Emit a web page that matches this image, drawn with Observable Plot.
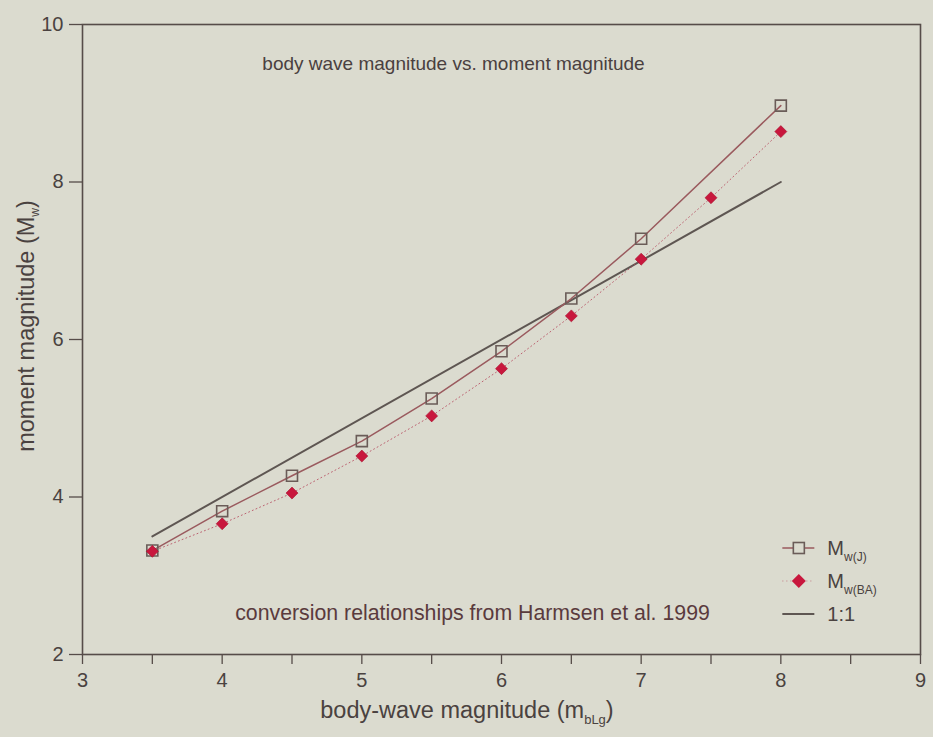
<!DOCTYPE html>
<html>
<head>
<meta charset="utf-8">
<script src="https://cdn.jsdelivr.net/npm/d3@7"></script>
<script src="https://cdn.jsdelivr.net/npm/@observablehq/plot@0.6"></script>
<style>
  html, body { margin: 0; padding: 0; background: #dbdbcf; }
</style>
</head>
<body>
<div id="chart"></div>
<script>
// ---- data ----
const mbLg = [3.5, 4, 4.5, 5, 5.5, 6, 6.5, 7, 8];
const mwJ = [3.32, 3.82, 4.27, 4.71, 5.25, 5.85, 6.52, 7.28, 8.97];
const mbLgBA = [3.5, 4, 4.5, 5, 5.5, 6, 6.5, 7, 7.5, 8];
const mwBA = [3.31, 3.66, 4.05, 4.52, 5.03, 5.63, 6.30, 7.02, 7.80, 8.64];
const oneToOneX = [3.5, 8];
const xTicks = [3, 3.5, 4, 4.5, 5, 5.5, 6, 6.5, 7, 7.5, 8, 8.5, 9];
const yTicks = [2, 4, 6, 8, 10];
const titleText = "body wave magnitude vs. moment magnitude";
const noteText = "conversion relationships from Harmsen et al. 1999";

const J = mbLg.map((x, i) => ({x, y: mwJ[i]}));
const BA = mbLgBA.map((x, i) => ({x, y: mwBA[i]}));
const one = oneToOneX.map(x => ({x, y: x}));

const axisColor = "#564c49";
const lineJ = "#9a5a5e";
const dotBA = "#c8173d";
const squareStroke = "#6a5c58";
const lineOne = "#5e5652";
const textColor = "#4a4240";

const chart = Plot.plot({
  width: 933,
  height: 737,
  marginLeft: 82,
  marginRight: 13,
  marginTop: 24,
  marginBottom: 83,
  x: {domain: [3, 9]},
  y: {domain: [2, 10]},
  style: {background: "#dbdbcf", fontFamily: "'Liberation Sans', Arial, sans-serif", fontSize: "20px", color: textColor},
  marks: [
    Plot.axisX({ticks: xTicks, tickSize: 10, tickPadding: 8, fontSize: 20, tickFormat: d => Number.isInteger(d) ? d : "", label: null, stroke: axisColor, strokeWidth: 1.3}),
    Plot.axisY({ticks: yTicks, tickSize: 13, tickPadding: 6, fontSize: 20, label: null, stroke: axisColor, strokeWidth: 1.3}),
    Plot.frame({stroke: axisColor, strokeWidth: 1.6}),
    Plot.line(one, {x: "x", y: "y", stroke: lineOne, strokeWidth: 2}),
    Plot.line(BA, {x: "x", y: "y", stroke: "#b4455a", strokeWidth: 1, strokeDasharray: "1,3", strokeOpacity: 0.8}),
    Plot.line(J, {x: "x", y: "y", stroke: lineJ, strokeWidth: 1.5}),
    Plot.dot(J, {x: "x", y: "y", symbol: "square", r: 6.2, stroke: squareStroke, strokeWidth: 1.6, fill: "none"}),
    Plot.dot(BA, {x: "x", y: "y", symbol: "diamond2", r: 5.4, fill: dotBA, stroke: "#a8102e", strokeWidth: 0.6}),
    Plot.text([titleText], {frameAnchor: "top", lineAnchor: "middle", dx: -48, dy: 39, fontSize: 19, fill: "#4a4040"}),
    Plot.text([noteText], {frameAnchor: "bottom", lineAnchor: "middle", dx: -29, dy: -41, fontSize: 21.3, fill: "#5a3a3d"})
  ]
});
document.getElementById("chart").appendChild(chart);

// ---- labels with subscripts and legend (added after render) ----
const svg = d3.select(chart);
const sx = chart.scale("x"), sy = chart.scale("y");
const font = "'Liberation Sans', Arial, sans-serif";

function subLabel(g, main, sub, tail, size, subSize, shift) {
  const t = g.append("text").attr("font-family", font).attr("font-size", size).attr("fill", textColor);
  t.append("tspan").text(main);
  t.append("tspan").attr("font-size", subSize).attr("dy", shift).text(sub);
  if (tail) t.append("tspan").attr("dy", -shift).text(tail);
  return t;
}

// x-axis label
const xl = subLabel(svg.append("g"), "body-wave magnitude (m", "bLg", ")", 23.5, 13, 6);
xl.attr("x", (sx.apply(3) + sx.apply(9)) / 2 - 34).attr("y", 718).attr("text-anchor", "middle");

// y-axis label
const ylg = svg.append("g").attr("transform", `translate(34, ${(sy.apply(2) + sy.apply(10)) / 2 - 13}) rotate(-90)`);
const yl = subLabel(ylg, "moment magnitude (M", "w", ")", 23.5, 12, 5);
yl.attr("x", 0).attr("y", 0).attr("text-anchor", "middle");

// legend
const lx = sx.apply(8) + 2;
const leg = svg.append("g").attr("text-anchor", "start");
const rows = [548, 581, 614];
// Mw(J)
leg.append("line").attr("x1", lx).attr("x2", lx + 32).attr("y1", rows[0]).attr("y2", rows[0]).attr("stroke", lineJ).attr("stroke-width", 1.5);
leg.append("rect").attr("x", lx + 11).attr("y", rows[0] - 5.5).attr("width", 11).attr("height", 11).attr("fill", "#dbdbcf").attr("stroke", squareStroke).attr("stroke-width", 1.6);
// Mw(BA)
leg.append("line").attr("x1", lx).attr("x2", lx + 32).attr("y1", rows[1]).attr("y2", rows[1]).attr("stroke", "#b4455a").attr("stroke-width", 1).attr("stroke-dasharray", "1,3").attr("stroke-opacity", 0.6);
leg.append("path").attr("d", `M${lx + 16.5},${rows[1] - 7}L${lx + 23.5},${rows[1]}L${lx + 16.5},${rows[1] + 7}L${lx + 9.5},${rows[1]}Z`).attr("fill", dotBA);
// 1:1
leg.append("line").attr("x1", lx).attr("x2", lx + 32).attr("y1", rows[2]).attr("y2", rows[2]).attr("stroke", lineOne).attr("stroke-width", 2);

const t1 = subLabel(leg, "M", "w(J)", null, 20, 12, 6);
t1.attr("x", lx + 45).attr("y", rows[0] + 7).attr("text-anchor", "start");
const t2 = subLabel(leg, "M", "w(BA)", null, 20, 12, 6);
t2.attr("x", lx + 45).attr("y", rows[1] + 7).attr("text-anchor", "start");
leg.append("text").attr("x", lx + 45).attr("y", rows[2] + 7).attr("text-anchor", "start").attr("font-family", font).attr("font-size", 20).attr("fill", textColor).text("1:1");
</script>
</body>
</html>
